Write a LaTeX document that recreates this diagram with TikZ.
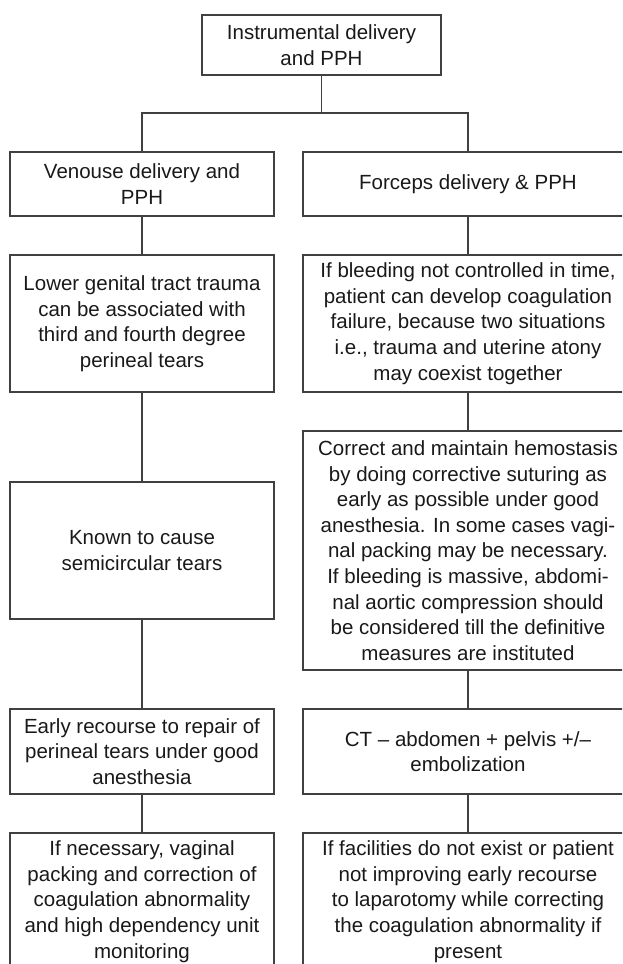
\documentclass[tikz,border=0pt]{standalone}
\usepackage{fontspec}
\setmainfont{Liberation Sans}
\usetikzlibrary{positioning}

\begin{document}
\begin{tikzpicture}[x=1pt, y=-1pt,
    box/.style={draw=black!75, line width=1.1pt, align=center, inner sep=0pt,
        font=\fontsize{20.5}{25.6}\selectfont, text=black!90},
    link/.style={draw=black!75, line width=1.1pt}]
    \path[use as bounding box, clip] (0, 0) rectangle (622, 964);
    % top
    \node[box, minimum width=239, minimum height=60] (top) at (321.5, 45) {Instrumental delivery\\and PPH};
    \coordinate (fork) at (321.5, 113);
    % left column
    \node[box, minimum width=264, minimum height=64] (ven1) at (142, 184) {Venouse delivery and\\PPH};
    \node[box, minimum width=264, minimum height=137] (ven2) at (142, 323.5) {Lower genital tract trauma\\can be associated with\\third and fourth degree\\perineal tears};
    \node[box, minimum width=264, minimum height=137] (ven3) at (142, 550.5) {Known to cause\\semicircular tears};
    \node[box, minimum width=264, minimum height=85] (ven4) at (142, 751.5) {Early recourse to repair of\\perineal tears under good\\anesthesia};
    \node[box, minimum width=264, minimum height=137] (ven5) at (142, 901.5) {If necessary, vaginal\\packing and correction of\\coagulation abnormality\\and high dependency unit\\monitoring};
    % right column
    \node[box, minimum width=330, minimum height=64] (for1) at (468, 184) {Forceps delivery \& PPH};
    \node[box, minimum width=330, minimum height=137] (for2) at (468, 323.5) {If bleeding not controlled in time,\\patient can develop coagulation\\failure, because two situations\\i.e., trauma and uterine atony\\may coexist together};
    \node[box, minimum width=330, minimum height=239] (for3) at (468, 550.5) {Correct and maintain hemostasis\\by doing corrective suturing as\\early as possible under good\\anesthesia. In some cases vagi-\\nal packing may be necessary.\\If bleeding is massive, abdomi-\\nal aortic compression should\\be considered till the definitive\\measures are instituted};
    \node[box, minimum width=330, minimum height=85] (for4) at (468, 751.5) {CT -- abdomen + pelvis +/--\\embolization};
    \node[box, minimum width=330, minimum height=137] (for5) at (468, 901.5) {If facilities do not exist or patient\\not improving early recourse\\to laparotomy while correcting\\the coagulation abnormality if\\present};
    % connectors
    \draw[link] (top) -- (fork);
    \draw[link] (ven1.north) |- (fork) -| (for1.north);
    \draw[link] (ven1) -- (ven2);
    \draw[link] (ven2) -- (ven3);
    \draw[link] (ven3) -- (ven4);
    \draw[link] (ven4) -- (ven5);
    \draw[link] (for1) -- (for2);
    \draw[link] (for2) -- (for3);
    \draw[link] (for3) -- (for4);
    \draw[link] (for4) -- (for5);
\end{tikzpicture}
\end{document}
